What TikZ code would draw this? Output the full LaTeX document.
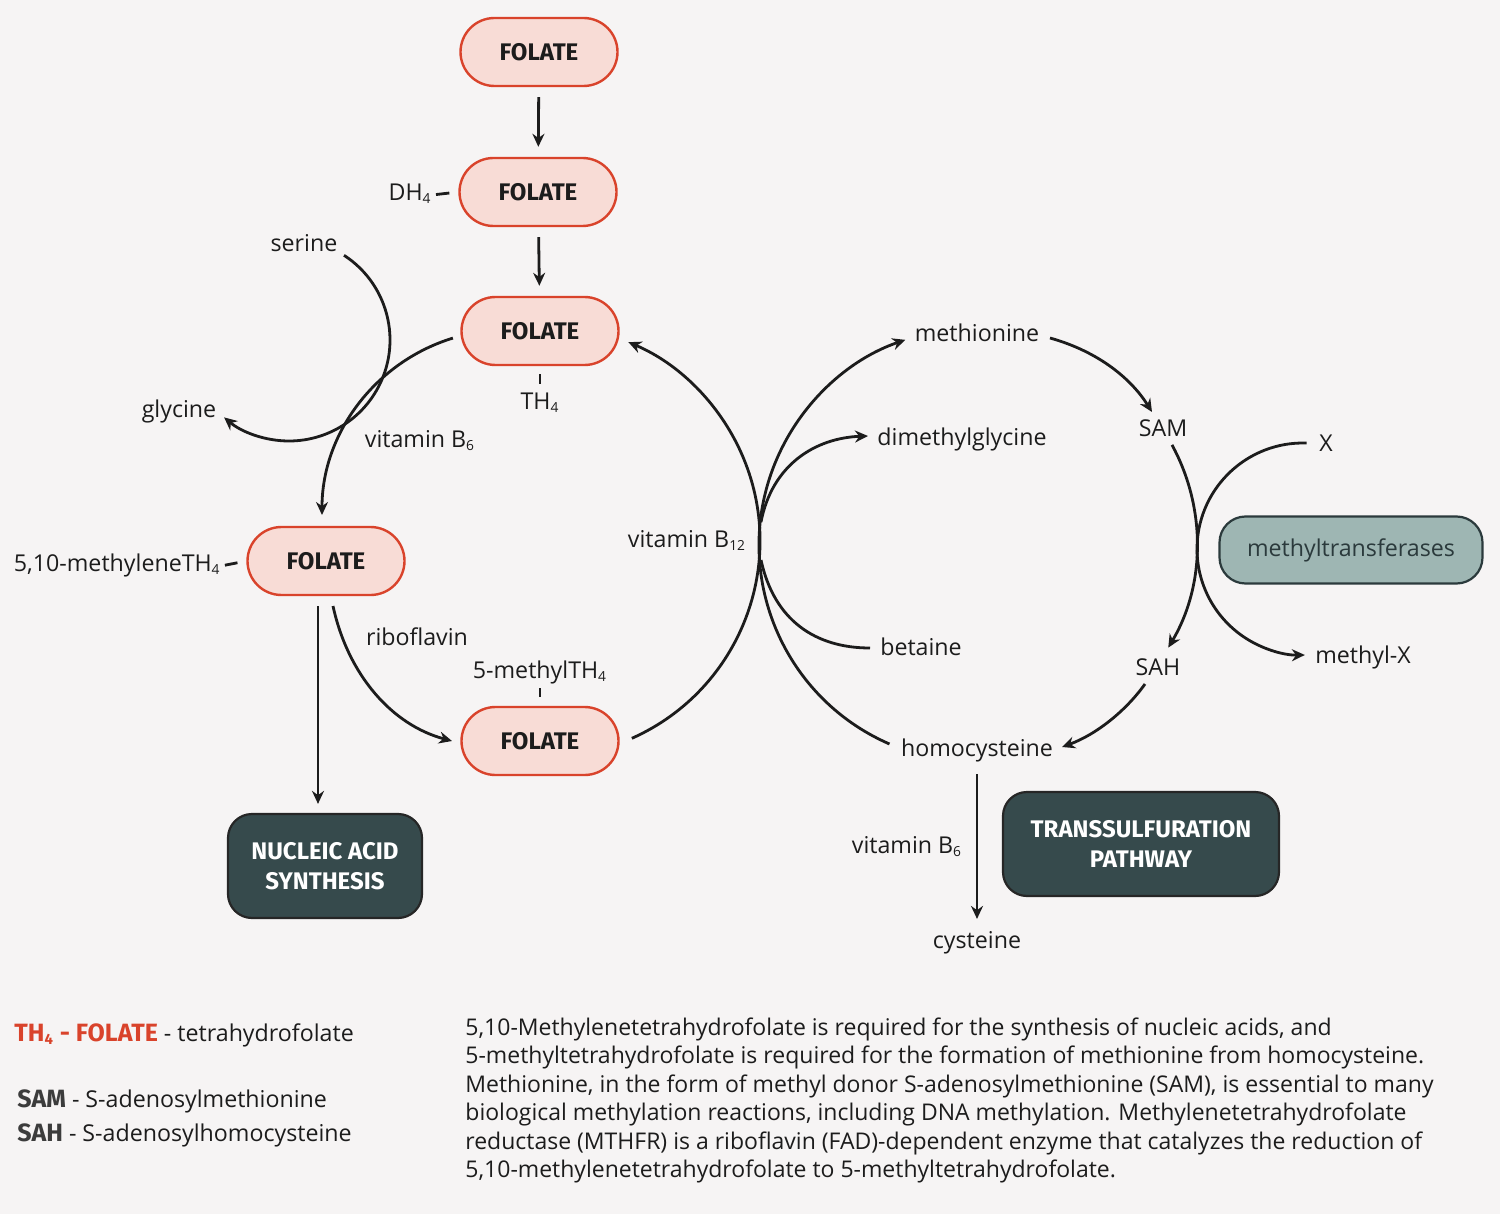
\documentclass[tikz,border=0pt]{standalone}
\usepackage{fontspec}
\setmainfont{Open Sans}
\newfontfamily\hfont{Fira Sans}
\usetikzlibrary{arrows.meta}
\definecolor{bg}{HTML}{F6F4F4}
\definecolor{fred}{HTML}{D9432B}
\definecolor{ffill}{HTML}{F8DCD6}
\definecolor{dbox}{HTML}{364A4C}
\definecolor{mfill}{HTML}{9EB6B3}
\definecolor{mink}{HTML}{2B3A3C}
\definecolor{ink}{HTML}{1C1C1C}
\definecolor{lgray}{HTML}{3C3C3C}
\newcommand\sbs[1]{\textsubscript{\scalebox{0.85}{#1}}}
\begin{document}
\begin{tikzpicture}[x=0.5pt,y=-0.5pt,
  folate/.style={draw=fred, line width=1.2pt, fill=ffill, rounded corners=17pt,
    minimum width=78.5pt, minimum height=34pt, inner sep=0pt,
    font=\hfont\bfseries\fontsize{12}{12}\selectfont, text=ink},
  darkbox/.style={draw=black!85, line width=1.1pt, fill=dbox, rounded corners=12pt,
    text=white, align=center, inner sep=0pt,
    font=\hfont\bfseries\fontsize{12}{15}\selectfont},
  lbl/.style={inner sep=0pt, anchor=mid, yshift=-1.5pt, font=\fontsize{11.6}{13}\selectfont, text=ink},
  legend/.style={inner sep=0pt, anchor=mid west, yshift=-1.5pt, font=\fontsize{11.6}{13}\selectfont, text=ink},
  conn/.style={draw=ink, line width=1.4pt},
  arr/.style={conn, -{Stealth[length=6.5pt,width=6pt]}}
]
\fill[bg] (0,0) rectangle (1500,1214);
\useasboundingbox (0,0) rectangle (1500,1214);

% folate boxes
\node[folate] (f1) at (539,52) {FOLATE};
\node[folate] (f2) at (538,192) {FOLATE};
\node[folate] (f3) at (540,331) {FOLATE};
\node[folate] (f4) at (326,561) {FOLATE};
\node[folate] (f5) at (540,741) {FOLATE};

% dark boxes
\node[darkbox, minimum width=97pt, minimum height=52pt] (nuc) at (325,866) {NUCLEIC ACID\\SYNTHESIS};
\node[darkbox, minimum width=138pt, minimum height=52pt] (trans) at (1141,844) {TRANSSULFURATION\\PATHWAY};
\node[draw=mink, line width=1.1pt, fill=mfill, rounded corners=13pt, minimum width=131.5pt,
  minimum height=33.5pt, inner sep=0pt, text=mink, font=\fontsize{11.6}{13}\selectfont]
  (mt) at (1351,550) {methyltransferases};

% labels
\node[lbl, anchor=mid east] (dh) at (432,192) {DH\sbs{4}};
\node[lbl] (th) at (540,401) {TH\sbs{4}};
\node[lbl] (serine) at (304,243) {serine};
\node[lbl] (glycine) at (179,409) {glycine};
\node[lbl] (vb6a) at (420,439) {vitamin B\sbs{6}};
\node[lbl, anchor=mid east] (m510) at (221,563) {5,10-methyleneTH\sbs{4}};
\node[lbl] (ribo) at (417,637) {riboflavin};
\node[lbl] (m5) at (540,670) {5-methylTH\sbs{4}};
\node[lbl] (b12) at (687,539) {vitamin B\sbs{12}};
\node[lbl] (methionine) at (977,333) {methionine};
\node[lbl] (dmg) at (962,437) {dimethylglycine};
\node[lbl] (betaine) at (921,647) {betaine};
\node[lbl] (homocys) at (977,748) {homocysteine};
\node[lbl] (sam) at (1163,428) {SAM};
\node[lbl] (sah) at (1158,667) {SAH};
\node[lbl] (xx) at (1326,443) {X};
\node[lbl] (mx) at (1363,655) {methyl-X};
\node[lbl] (vb6b) at (907,845) {vitamin B\sbs{6}};
\node[lbl] (cys) at (977,940) {cysteine};

% straight arrows
\draw[arr, shorten <=5pt, shorten >=5pt] (f1) -- (f2);
\draw[arr, shorten <=5pt, shorten >=5pt] (f2) -- (f3);
\draw[arr, shorten <=5pt, shorten >=4.5pt] ([xshift=-4pt]f4.south) -- ([xshift=-4pt]f4.south |- nuc.north);
\draw[arr, shorten <=6pt, shorten >=6pt] (homocys.south) -- (homocys.south |- cys.north);

% ticks
\draw[conn, shorten <=2pt, shorten >=4.5pt] (dh.mid east) -- (f2.west);
\draw[conn, shorten <=2pt, shorten >=4.5pt] (m510.mid east) -- (f4.west);
\draw[conn, shorten <=4pt, shorten >=4pt] (f3.south) -- (th.north);
\draw[conn, shorten <=2pt, shorten >=4.5pt] (m5.south) -- (f5.north);

% arc centres
\coordinate (serC) at (289,340);
\coordinate (b6C) at (507,515);
\coordinate (b12L) at (544,541);
\coordinate (b12R) at (976,545);
\coordinate (samC) at (992,543);
\coordinate (xC) at (1303,549);

% serine -> glycine
\draw[arr] ([shift={(-57:101)}]serC) arc[start angle=-57, end angle=130, radius=101];
% vitamin B6 : THF -> 5,10-methylene
\draw[arr] ([shift={(253:185)}]b6C) arc[start angle=253, end angle=180, radius=185];
% riboflavin
\draw[arr] (333,606) .. controls (348,675) and (392,725) .. (452,741);
% vitamin B12 left arc
\draw[arr] ([shift={(66:216)}]b12L) arc[start angle=66, end angle=-67, radius=216];
% vitamin B12 right arc homocysteine -> methionine
\draw[arr] ([shift={(113.5:217)}]b12R) arc[start angle=113.5, end angle=251, radius=217];
% betaine -> dimethylglycine
\draw[arr] (761,522) .. controls (772,465) and (815,438) .. (868,436);
\draw[conn] (761,560) .. controls (774,620) and (815,648) .. (870,648);
% methionine -> SAM
\draw[arr] (1050,338) .. controls (1100,352) and (1132,380) .. (1152,412);
% SAM -> SAH
\draw[arr] ([shift={(-28.6:205)}]samC) arc[start angle=-28.6, end angle=30.7, radius=205];
% X -> methyl-X
\draw[arr] ([shift={(272:106)}]xC) arc[start angle=272, end angle=89, radius=106];
% SAH -> homocysteine
\draw[arr] (1145,684) .. controls (1125,712) and (1095,735) .. (1062,747);

% legend
\node[legend] (leg1) at (14,1033)
  {\textcolor{fred}{\hfont\bfseries\fontsize{12.5}{13}\selectfont TH\sbs{4} - FOLATE} - tetrahydrofolate};
\node[legend] (leg2) at (17,1099)
  {\textcolor{lgray}{\hfont\bfseries\fontsize{12.5}{13}\selectfont SAM} - S-adenosylmethionine};
\node[legend] (leg3) at (17,1133)
  {\textcolor{lgray}{\hfont\bfseries\fontsize{12.5}{13}\selectfont SAH} - S-adenosylhomocysteine};

% paragraph
\node[inner sep=0pt, anchor=north west, align=left, text=ink, font=\fontsize{11.5}{14.25}\selectfont] (para) at (465,1017)
{5,10-Methylenetetrahydrofolate is required for the synthesis of nucleic acids, and\\
5-methyltetrahydrofolate is required for the formation of methionine from homocysteine.\\
Methionine, in the form of methyl donor S-adenosylmethionine (SAM), is essential to many\\
biological methylation reactions, including DNA methylation. Methylenetetrahydrofolate\\
reductase (MTHFR) is a riboflavin (FAD)-dependent enzyme that catalyzes the reduction of\\
5,10-methylenetetrahydrofolate to 5-methyltetrahydrofolate.};
\end{tikzpicture}
\end{document}
